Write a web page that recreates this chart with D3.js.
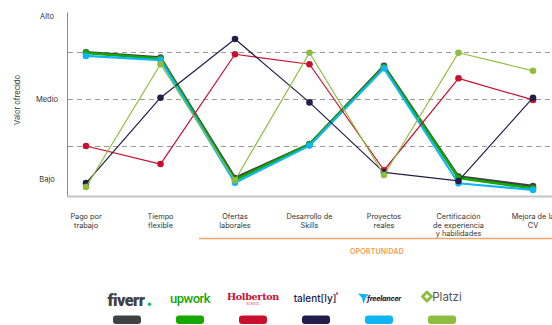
<!DOCTYPE html>
<html>
<head>
<meta charset="utf-8">
<script src="https://d3js.org/d3.v7.min.js"></script>
<style>
  html, body { margin: 0; padding: 0; background: #fff; }
  svg { display: block; font-family: Inter, "Noto Sans", sans-serif; }
</style>
</head>
<body>
<script>
// categories (x axis)
const categories = [
  ["Pago por", "trabajo"],
  ["Tiempo", "flexible"],
  ["Ofertas", "laborales"],
  ["Desarrollo de", "Skills"],
  ["Proyectos", "reales"],
  ["Certificación", "de experiencia", "y habilidades"],
  ["Mejora de la", "CV"]
];
// y tick labels and their positions on the 0-100 value scale
const yTickLabels = ["Bajo", "Medio", "Alto"];
const yTickValues = [7, 50, 94];
const gridValues = [25, 50, 75];

// series values (0 = bajo, 100 = alto)
const fiverr     = [74.8, 72.0, 8.0, 26.0, 67.6, 8.7, 3.7];
const upwork     = [74.5, 71.5, 6.9, 25.9, 67.0, 8.0, 2.5];
const freelancer = [72.9, 70.7, 5.5, 25.2, 66.3, 5.2, 1.6];
const holberton  = [25.0, 15.4, 73.8, 68.5, 12.1, 61.0, 49.5];
const talently   = [5.3, 50.7, 81.9, 48.2, 11.0, 6.4, 50.7];
const platzi     = [3.2, 68.5, 6.8, 74.6, 9.6, 74.6, 65.0];

const brands = ["fiverr", "upwork", "holberton", "talently", "freelancer", "platzi"];
const colors = {
  fiverr: "#404145", upwork: "#14a800", holberton: "#c8102e",
  talently: "#221d4b", freelancer: "#0fb5f5", platzi: "#8fbd3f"
};

const W = 552, H = 325;
const svg = d3.select("body").append("svg").attr("width", W).attr("height", H);

const x = d3.scalePoint().domain(d3.range(categories.length)).range([86, 533]);
const y = d3.scaleLinear().domain([0, 100]).range([193, 5]);

// grid
svg.append("g").selectAll("line").data(gridValues).enter().append("line")
  .attr("x1", 68).attr("x2", W)
  .attr("y1", d => Math.round(y(d)) + 0.5).attr("y2", d => Math.round(y(d)) + 0.5)
  .attr("stroke", "#9a9a9a").attr("stroke-width", 1).attr("stroke-dasharray", "5,4");

// axes lines
svg.append("line").attr("x1", 67.5).attr("x2", 67.5).attr("y1", y(96)).attr("y2", 197)
  .attr("stroke", "#8a8a8a").attr("stroke-width", 1);
svg.append("line").attr("x1", 67).attr("x2", W).attr("y1", 196.5).attr("y2", 196.5)
  .attr("stroke", "#c4c4c4").attr("stroke-width", 2);

// y tick labels
svg.append("g").selectAll("text").data(yTickValues).enter().append("text")
  .attr("x", 47).attr("y", d => y(d)).attr("dy", "0.35em")
  .attr("text-anchor", "middle").attr("font-size", 7.5).attr("fill", "#333")
  .text((d, i) => yTickLabels[i]);

svg.append("text")
  .attr("transform", "translate(20,100) rotate(-90)")
  .attr("text-anchor", "middle").attr("font-size", 7.5).attr("fill", "#333")
  .text("Valor ofrecido");

// x labels
const xl = svg.append("g").selectAll("text").data(categories).enter().append("text")
  .attr("text-anchor", "middle").attr("font-size", 7.3).attr("fill", "#333")
  .attr("transform", (d, i) => `translate(${x(i)},219)`);
xl.selectAll("tspan").data(d => d).enter().append("tspan")
  .attr("x", 0).attr("y", (d, i) => i * 8.5).text(d => d);

// oportunidad band
svg.append("line").attr("x1", 199).attr("x2", W).attr("y1", 238.5).attr("y2", 238.5)
  .attr("stroke", "#f7a468").attr("stroke-width", 1.6);
svg.append("text").attr("x", 377).attr("y", 254).attr("text-anchor", "middle")
  .attr("font-size", 7).attr("font-weight", 600).attr("fill", "#f39a4f")
  .attr("letter-spacing", 0.2).text("OPORTUNIDAD");

// lines
const seriesData = { fiverr, upwork, freelancer, holberton, talently, platzi };
const drawOrder = ["fiverr", "upwork", "freelancer", "holberton", "talently", "platzi"];
const thick = { fiverr: 2.6, upwork: 2.6, freelancer: 2.2, holberton: 1.2, talently: 1.2, platzi: 1.2 };
const line = d3.line().x((d, i) => x(i)).y(d => y(d));

drawOrder.forEach(k => {
  const g = svg.append("g");
  g.append("path").datum(seriesData[k]).attr("d", line)
    .attr("fill", "none").attr("stroke", colors[k]).attr("stroke-width", thick[k])
    .attr("stroke-linejoin", "round");
  g.selectAll("circle").data(seriesData[k]).enter().append("circle")
    .attr("cx", (d, i) => x(i)).attr("cy", d => y(d)).attr("r", 3.3)
    .attr("fill", colors[k]);
});

// legend
const lx = d3.scalePoint().domain(brands).range([127, 442]);
const leg = svg.append("g");
leg.selectAll("rect").data(brands).enter().append("rect")
  .attr("x", d => lx(d) - 14).attr("y", 315.5).attr("width", 28).attr("height", 8.5)
  .attr("rx", 3).attr("fill", d => colors[d]);

// logos
const logo = k => leg.append("g").attr("transform", `translate(${lx(k)},0)`);
let g = logo("fiverr");
g.append("text").attr("x", -1).attr("y", 306).attr("text-anchor", "middle")
  .attr("font-family", "Roboto, sans-serif").attr("font-weight", 900).attr("font-size", 16.5)
  .attr("letter-spacing", -0.6).attr("fill", "#404145").text("fiverr");
g.append("circle").attr("cx", 22.5).attr("cy", 304.3).attr("r", 1.8).attr("fill", "#1dbf73");

g = logo("upwork");
g.append("text").attr("x", 0).attr("y", 303).attr("text-anchor", "middle")
  .attr("font-family", "Roboto, sans-serif").attr("font-weight", 500).attr("font-size", 13)
  .attr("letter-spacing", -0.5).attr("fill", "#14a800").text("upwork");

g = logo("holberton");
g.append("text").attr("x", 0).attr("y", 300).attr("text-anchor", "middle")
  .attr("font-family", "'DejaVu Serif', serif").attr("font-weight", 700).attr("font-size", 9.6)
  .attr("letter-spacing", -0.3).attr("fill", "#c8102e").text("Holberton");
g.append("text").attr("x", 0).attr("y", 304.5).attr("text-anchor", "middle")
  .attr("font-size", 2.8).attr("fill", "#c8102e").attr("letter-spacing", 0.3).text("SCHOOL");

g = logo("talently");
g.append("text").attr("x", -1).attr("y", 302).attr("text-anchor", "middle")
  .attr("font-weight", 500).attr("font-size", 10).attr("fill", "#221d4b")
  .text("talent[ly]");
g.append("rect").attr("x", 20).attr("y", 292.5).attr("width", 2).attr("height", 2).attr("fill", "#e53946");

g = logo("freelancer");
g.append("path").attr("d", "M-21,293.5 L-10,294.5 L-13,297 L-15.5,304 L-17,298 Z").attr("fill", "#0fb5f5");
g.append("text").attr("x", 5).attr("y", 301).attr("text-anchor", "middle")
  .attr("font-style", "italic").attr("font-weight", 800).attr("font-size", 7)
  .attr("letter-spacing", -0.2).attr("fill", "#1f2a44").text("freelancer");

g = logo("platzi");
g.append("path").attr("d", "M-15,292 L-10.5,296.5 L-15,301 L-19.5,296.5 Z").attr("fill", "none")
  .attr("stroke", "#8fbd3f").attr("stroke-width", 3).attr("stroke-linejoin", "round");
g.append("text").attr("x", 5).attr("y", 301).attr("text-anchor", "middle")
  .attr("font-size", 11.5).attr("fill", "#555").text("Platzi");
</script>
</body>
</html>
